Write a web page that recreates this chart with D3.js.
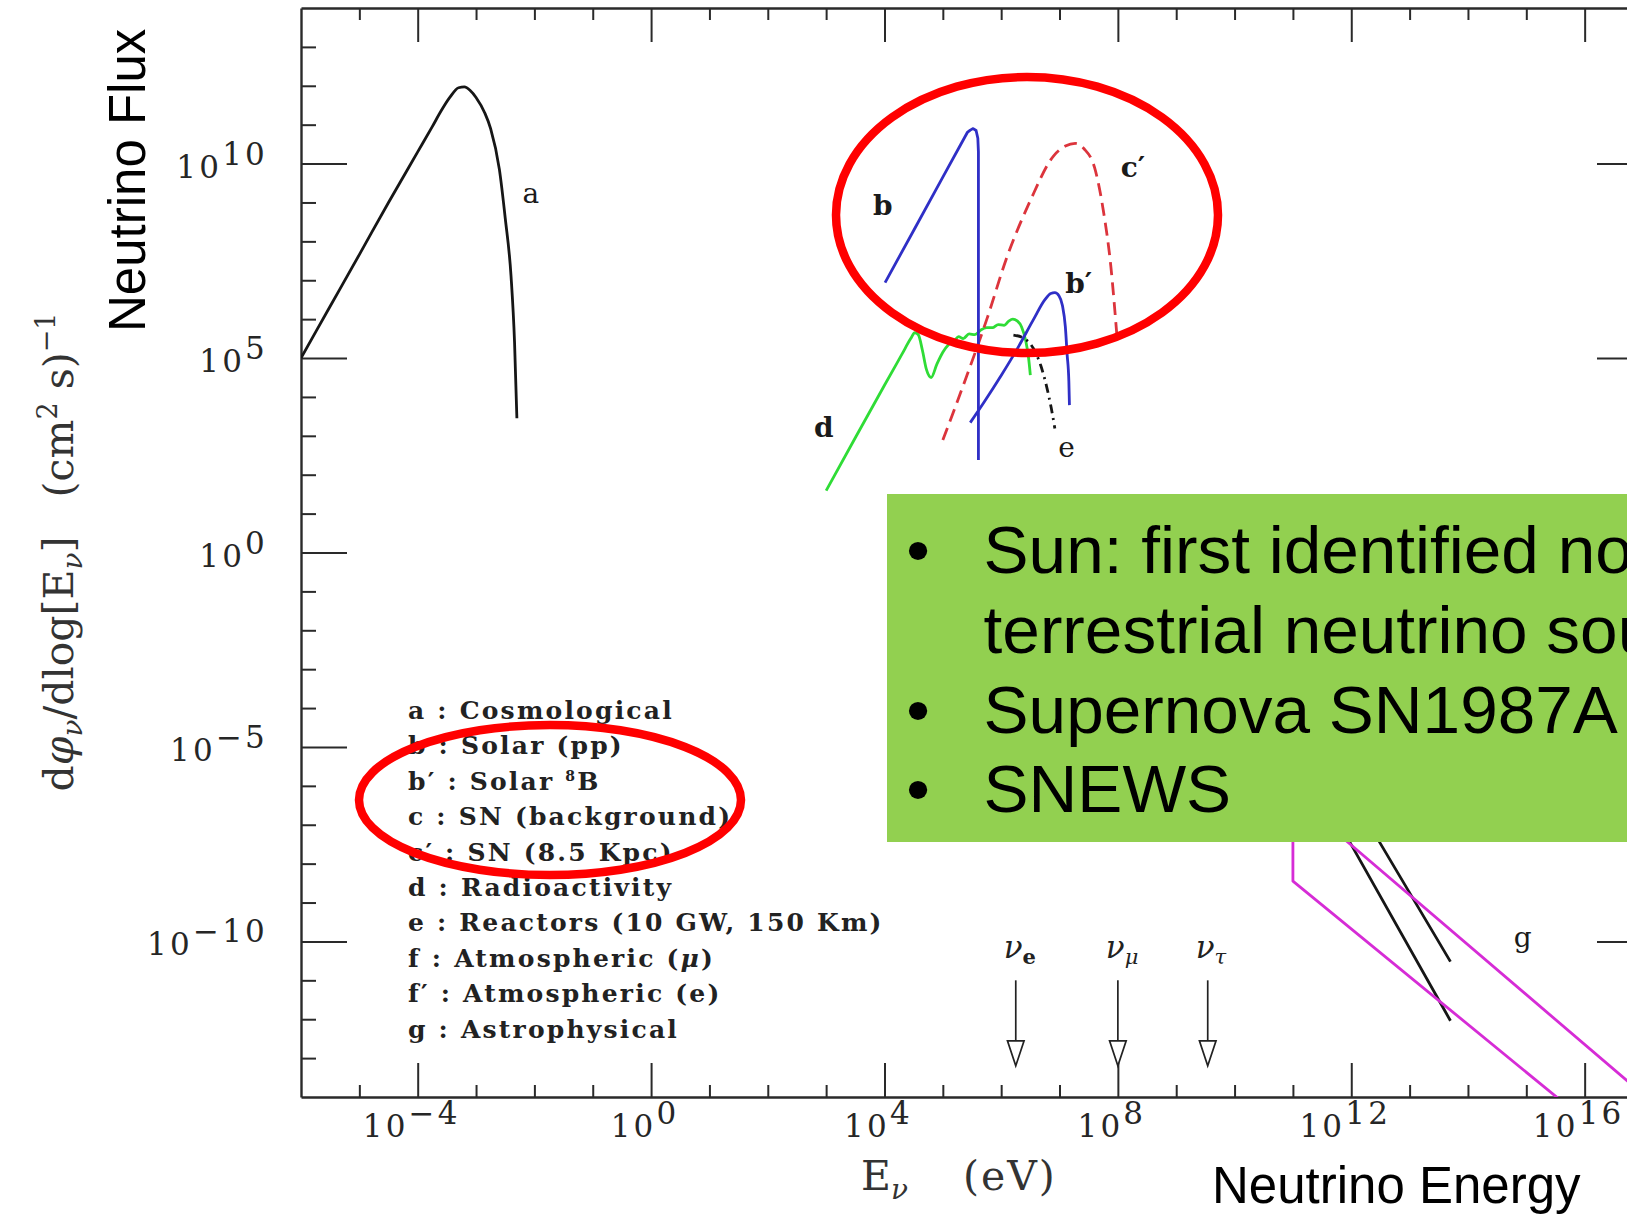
<!DOCTYPE html>
<html>
<head>
<meta charset="utf-8">
<script src="https://cdn.jsdelivr.net/npm/d3@7"></script>
<style>
  html, body { margin: 0; padding: 0; background: #fff; overflow: hidden; }
  svg { display: block; }
  text { white-space: pre; }
</style>
</head>
<body>
<svg id="chart" width="1627" height="1215"></svg>
<script>
// ---------------- data ----------------
const energyRange = [1e-6, 1e17];          // E_nu (eV)
const fluxRange   = [1e-14, 1e14];         // dphi/dlogE  (cm^2 s)^-1
const xMajorExp = [-4, 0, 4, 8, 12, 16];
const xMinorExp = d3.range(-5, 17).filter(e => !xMajorExp.includes(e));
const yMajorExp = [10, 5, 0, -5, -10];
const yMinorExp = d3.range(-13, 14).filter(e => !yMajorExp.includes(e));

// spectra as [log10 E (eV), log10 flux]
const cosmological = [[-6.0,5.0],[-5.5,6.33],[-5.0,7.66],[-4.5,9.0],[-4.0,10.3],[-3.75,10.95],
  [-3.6,11.35],[-3.45,11.7],[-3.3,11.95],[-3.2,11.97],[-3.1,11.88],[-3.0,11.7],[-2.85,11.3],
  [-2.75,10.9],[-2.6,9.85],[-2.5,8.6],[-2.4,7.1],[-2.34,5.4],[-2.3,3.45]];
const solarPP = [[4.01,6.94],[4.5,8.28],[5.0,9.65],[5.3,10.47],[5.42,10.8],[5.47,10.86],[5.52,10.9],
  [5.57,10.85],[5.6,10.65],[5.61,10.3],[5.61,2.38]];
const solarB8 = [[5.47,3.34],[5.7,3.85],[6.0,4.55],[6.3,5.3],[6.55,5.98],[6.75,6.5],[6.85,6.66],
  [6.92,6.68],[6.99,6.6],[7.05,6.35],[7.1,5.8],[7.13,5.1],[7.16,4.4],[7.17,3.79]];
const supernova = [[5.0,2.89],[5.4,4.5],[5.75,5.98],[6.1,7.6],[6.5,9.05],[6.9,10.2],[7.1,10.45],
  [7.27,10.52],[7.42,10.38],[7.6,9.9],[7.75,8.8],[7.88,7.35],[7.98,5.64]];
const radioactivity = [[3.0,1.59],[3.5,2.95],[4.0,4.3],[4.3,5.1],[4.45,5.5],[4.52,5.65],[4.58,5.6],
  [4.65,5.2],[4.72,4.7],[4.8,4.5],[4.9,4.85],[5.0,5.15],[5.1,5.35],[5.2,5.45],[5.27,5.55],[5.35,5.5],
  [5.45,5.62],[5.55,5.6],[5.65,5.72],[5.75,5.78],[5.85,5.78],[5.95,5.86],[6.05,5.84],[6.13,5.95],
  [6.2,6.0],[6.28,5.95],[6.35,5.8],[6.42,5.45],[6.47,5.0],[6.5,4.56]];
const reactors = [[6.21,5.59],[6.4,5.5],[6.55,5.25],[6.68,4.8],[6.78,4.26],[6.86,3.7],[6.92,3.19]];
const atmosphericMu = [[8.3,0.3],[9.0,-0.4],[10.0,-1.9],[11.0,-3.9],[12.0,-6.22],[12.49,-7.46],[13.7,-10.52]];
const atmosphericE  = [[8.3,-0.3],[9.0,-1.2],[10.0,-2.9],[11.0,-4.85],[11.98,-7.46],[13.7,-12.04]];
const astrophysical = [[17.1,-14.06],[11.0,-6.24],[11.0,-8.45],[15.6,-14.1]];

const legendKeys  = ["a", "b", "b\u2032", "c", "c\u2032", "d", "e", "f", "f\u2032", "g"];
const legendNames = ["Cosmological", "Solar (pp)", "Solar |8|B", "SN (background)", "SN (8.5 Kpc)",
  "Radioactivity", "Reactors (10 GW, 150 Km)", "Atmospheric (~\u03bc~)", "Atmospheric (e)", "Astrophysical"];

const flavourNames  = ["e", "\u03bc", "\u03c4"];
const flavourExp    = [6.25, 8.0, 9.54];   // log10 E of the arrows
const arrowTopExp   = -11.0;
const arrowTipExp   = -13.2;

const bulletLines = [
  { bullet: true,  text: "Sun: first identified non-" },
  { bullet: false, text: "terrestrial neutrino source" },
  { bullet: true,  text: "Supernova SN1987A" },
  { bullet: true,  text: "SNEWS" }
];

// ---------------- scales ----------------
const plotL = 301, plotR = 1643, plotT = 8, plotB = 1097;
const x = d3.scaleLog().domain(energyRange).range([plotL, plotR]);
const y = d3.scaleLog().domain(fluxRange).range([plotB, plotT]);
const X = e => x(Math.pow(10, e));
const Y = f => y(Math.pow(10, f));

const svg = d3.select("#chart");
svg.append("rect").attr("width", 1627).attr("height", 1215).attr("fill", "#fff");

svg.append("defs").append("clipPath").attr("id", "plotClip")
  .append("rect").attr("x", plotL).attr("y", plotT).attr("width", plotR - plotL).attr("height", plotB - plotT);

// ---------------- frame & ticks ----------------
const axisColor = "#2a2a2a";
function frameAxis(axisFn, scale, vals, size, tr, keepDomain) {
  const g = svg.append("g").attr("transform", tr)
    .call(axisFn(scale).tickValues(vals.map(e => Math.pow(10, e)))
      .tickSize(-size).tickSizeOuter(0).tickFormat(""));
  g.selectAll(".tick line").attr("stroke", axisColor).attr("stroke-width", 2);
  if (keepDomain) g.select(".domain").attr("stroke", axisColor).attr("stroke-width", 2.4);
  else g.select(".domain").remove();
  return g;
}
frameAxis(d3.axisBottom, x, xMajorExp, 34, `translate(0,${plotB})`, true);
frameAxis(d3.axisBottom, x, xMinorExp, 12, `translate(0,${plotB})`, false);
frameAxis(d3.axisTop, x, xMajorExp, 34, `translate(0,${plotT})`, true);
frameAxis(d3.axisTop, x, xMinorExp, 12, `translate(0,${plotT})`, false);
frameAxis(d3.axisLeft, y, yMajorExp, 46, `translate(${plotL},0)`, true);
frameAxis(d3.axisLeft, y, yMinorExp, 15, `translate(${plotL},0)`, false);
frameAxis(d3.axisRight, y, yMajorExp, 46, `translate(${plotR},0)`, true);
frameAxis(d3.axisRight, y, yMinorExp, 15, `translate(${plotR},0)`, false);

// power-of-ten tick labels
const fmtExp = e => (e < 0 ? "\u2212" + (-e) : String(e));
function powLabel(sel, e) {
  sel.append("tspan").text("10");
  sel.append("tspan").attr("dy", -13).text(fmtExp(e));
}
const tickFont = { family: "DejaVu Serif", size: 31 };
yMajorExp.forEach(e => {
  const t = svg.append("text")
    .attr("x", 268).attr("y", Y(e) + 14)
    .attr("text-anchor", "end")
    .attr("font-family", tickFont.family).attr("font-size", tickFont.size)
    .attr("letter-spacing", 3.2).attr("fill", "#262626");
  powLabel(t, e);
});
xMajorExp.forEach(e => {
  const t = svg.append("text")
    .attr("x", X(e) - 6).attr("y", 1137)
    .attr("text-anchor", "middle")
    .attr("font-family", tickFont.family).attr("font-size", tickFont.size)
    .attr("letter-spacing", 3.2).attr("fill", "#262626");
  powLabel(t, e);
});

// axis titles
const yTitle = svg.append("text")
  .attr("transform", "translate(73,552) rotate(-90)")
  .attr("text-anchor", "middle")
  .attr("font-family", "DejaVu Serif").attr("font-size", 41).attr("fill", "#333");
yTitle.append("tspan").text("d");
yTitle.append("tspan").attr("font-style", "italic").text("\u03c6");
yTitle.append("tspan").attr("font-style", "italic").attr("font-size", 28).attr("dy", 9).text("\u03bd");
yTitle.append("tspan").attr("dy", -9).text("/dlog[E");
yTitle.append("tspan").attr("font-style", "italic").attr("font-size", 28).attr("dy", 9).text("\u03bd");
yTitle.append("tspan").attr("dy", -9).text("]   (cm");
yTitle.append("tspan").attr("font-size", 27).attr("dy", -16).text("2");
yTitle.append("tspan").attr("dy", 16).text(" s)");
yTitle.append("tspan").attr("font-size", 27).attr("dy", -18).text("\u22121");

const xTitle = svg.append("text")
  .attr("x", 861).attr("y", 1190)
  .attr("font-family", "DejaVu Serif").attr("font-size", 41).attr("fill", "#333");
xTitle.append("tspan").text("E");
xTitle.append("tspan").attr("font-style", "italic").attr("font-size", 28).attr("dy", 9).text("\u03bd");
xTitle.append("tspan").attr("x", 963).attr("dy", -9).attr("letter-spacing", 2).text("(eV)");

// ---------------- spectra ----------------
const plot = svg.append("g").attr("clip-path", "url(#plotClip)");
const smooth = d3.line().x(d => X(d[0])).y(d => Y(d[1])).curve(d3.curveMonotoneX);
const straight = d3.line().x(d => X(d[0])).y(d => Y(d[1]));

const series = [
  { data: cosmological,  gen: smooth,   color: "#161616", dash: null },
  { data: radioactivity, gen: smooth,   color: "#2fdc36", dash: null },
  { data: supernova,     gen: smooth,   color: "#dc343c", dash: "13,7" },
  { data: reactors,      gen: smooth,   color: "#161616", dash: "9,5,2,5" },
  { data: solarB8,       gen: smooth,   color: "#2f2fc6", dash: null },
  { data: solarPP,       gen: straight, color: "#2f2fc6", dash: null },
  { data: atmosphericMu, gen: smooth,   color: "#161616", dash: null },
  { data: atmosphericE,  gen: smooth,   color: "#161616", dash: null },
  { data: astrophysical, gen: straight, color: "#d62cd6", dash: null }
];
series.forEach(s => {
  plot.append("path").attr("d", s.gen(s.data))
    .attr("fill", "none").attr("stroke", s.color).attr("stroke-width", 2.8)
    .attr("stroke-linejoin", "round")
    .attr("stroke-dasharray", s.dash);
});

// curve tags, anchored in data coordinates
const tags = [
  { t: "a",       at: [-2.06, 8.99],  bold: false },
  { t: "b",       at: [3.97, 8.68],   bold: true },
  { t: "c\u2032", at: [8.26, 9.66],   bold: true },
  { t: "b\u2032", at: [7.33, 6.67],   bold: true },
  { t: "d",       at: [2.96, 2.98],   bold: true },
  { t: "e",       at: [7.12, 2.45],   bold: false },
  { t: "g",       at: [14.94, -10.15], bold: false }
];
tags.forEach(d => {
  svg.append("text").attr("x", X(d.at[0])).attr("y", Y(d.at[1]))
    .attr("text-anchor", "middle")
    .attr("font-family", "DejaVu Serif").attr("font-size", 28)
    .attr("font-weight", d.bold ? "bold" : "normal").attr("fill", "#1a1a1a")
    .text(d.t);
});

// ---------------- legend ----------------
legendKeys.forEach((k, i) => {
  const t = svg.append("text")
    .attr("x", 408).attr("y", 719 + i * 35.4)
    .attr("font-family", "DejaVu Serif").attr("font-size", 25).attr("font-weight", "bold")
    .attr("letter-spacing", 2.2).attr("fill", "#222");
  t.append("tspan").text(k + " : ");
  // "|8|" marks a small superscript, "~x~" an italic part
  let shift = 0;
  legendNames[i].split(/(\|[^|]*\||~[^~]*~)/).forEach(part => {
    if (!part) return;
    if (part.startsWith("|")) {
      t.append("tspan").attr("font-size", 14).attr("dy", -9).text(part.slice(1, -1));
      shift = 9;
    } else {
      const sp = t.append("tspan").attr("dy", shift || null);
      shift = 0;
      if (part.startsWith("~")) sp.attr("font-style", "italic").text(part.slice(1, -1));
      else sp.text(part);
    }
  });
});

// ---------------- flavour arrows ----------------
flavourExp.forEach((e, i) => {
  const ax = X(e), y0 = Y(arrowTopExp), tip = Y(arrowTipExp), head = 25, hw = 8.3;
  svg.append("line").attr("x1", ax).attr("x2", ax).attr("y1", y0).attr("y2", tip - head)
    .attr("stroke", "#222").attr("stroke-width", 1.7);
  svg.append("path")
    .attr("d", `M${ax - hw},${tip - head}L${ax + hw},${tip - head}L${ax},${tip}Z`)
    .attr("fill", "#fff").attr("stroke", "#222").attr("stroke-width", 1.7);
  const lab = svg.append("text").attr("x", ax - 12).attr("y", Y(arrowTopExp) - 22)
    .attr("font-family", "DejaVu Serif").attr("font-size", 31).attr("fill", "#222");
  lab.append("tspan").attr("font-style", "italic").text("\u03bd");
  lab.append("tspan").attr("font-size", 21).attr("dy", 6)
    .attr("font-style", i === 0 ? "normal" : "italic").attr("font-weight", i === 0 ? "bold" : "normal")
    .text(flavourNames[i]);
});

// ---------------- slide overlay ----------------
const slideFont = "Liberation Sans, Arial, sans-serif";
svg.append("rect").attr("x", 887).attr("y", 494).attr("width", 760).attr("height", 348)
  .attr("fill", "#92d050");
bulletLines.forEach((l, i) => {
  const by = 573 + i * 79.8;
  if (l.bullet) {
    svg.append("text").attr("x", 918).attr("y", by).attr("text-anchor", "middle")
      .attr("font-family", slideFont).attr("font-size", 67.5)
      .attr("fill", "#000").text("\u2022");
  }
  svg.append("text").attr("x", 983.6).attr("y", by)
    .attr("font-family", slideFont).attr("font-size", 67.5)
    .attr("fill", "#000").text(l.text);
});

svg.append("text")
  .attr("transform", "translate(145,332) rotate(-90)")
  .attr("font-family", slideFont).attr("font-size", 51)
  .attr("fill", "#000").text("Neutrino Flux");
svg.append("text").attr("x", 1212).attr("y", 1203)
  .attr("font-family", slideFont).attr("font-size", 51)
  .attr("fill", "#000").text("Neutrino Energy");

// highlight rings
svg.append("ellipse").attr("cx", 1027).attr("cy", 215).attr("rx", 191).attr("ry", 138)
  .attr("fill", "none").attr("stroke", "#ff0000").attr("stroke-width", 8.5);
svg.append("ellipse").attr("cx", 550).attr("cy", 800).attr("rx", 191).attr("ry", 75)
  .attr("fill", "none").attr("stroke", "#ff0000").attr("stroke-width", 8.5);
</script>
</body>
</html>
